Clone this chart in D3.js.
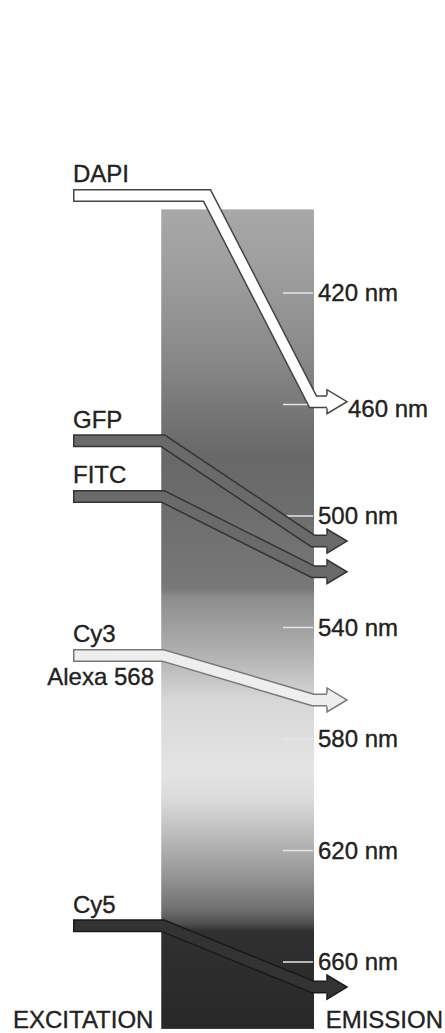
<!DOCTYPE html>
<html>
<head>
<meta charset="utf-8">
<script src="https://cdn.jsdelivr.net/npm/d3@7"></script>
<style>
  html, body { margin: 0; padding: 0; background: #fff; }
  svg { display: block; }
  text { font-family: "Liberation Sans", Arial, Helvetica, sans-serif; fill: #222; stroke: #222; stroke-width: 0.35px; }
</style>
</head>
<body>
<script>
// ---- data ----
const tickNm = [420, 460, 500, 540, 580, 620, 660];
const tickLabels = ["420 nm", "460 nm", "500 nm", "540 nm", "580 nm", "620 nm", "660 nm"];
const dyes = ["DAPI", "GFP", "FITC", "Cy3", "Cy5"];
const subLabels = ["", "", "", "Alexa 568", ""];
const excitationNm = [385, 473, 493, 550, 647];
const emissionNm = [459, 509, 520, 566, 669];
const spectrumRange = [390, 684];
const gradNm   = [390, 415, 444, 469, 480, 494, 516, 526, 529, 540, 550, 566, 591, 602, 616, 631, 641, 646, 649, 684];
const gradGray = [168, 156, 136, 112, 104, 108, 116, 120, 140, 160, 178, 215, 228, 218, 184, 144, 112, 80, 48, 40];
const axisTitles = ["EXCITATION", "EMISSION"];

// ---- layout / style ----
const W = 445, H = 1033;
const arrowFill    = ["#ffffff", "#6a6a6a", "#6a6a6a", "#eeeeee", "#333333"];
const arrowOutline = ["#444444", "#333333", "#333333", "#777777", "#1a1a1a"];

const y = d3.scaleLinear().domain([420, 660]).range([293, 962]);
const barX0 = 161, barX1 = 314;
const barTop = y(spectrumRange[0]), barBottom = y(spectrumRange[1]);

const svg = d3.select("body").append("svg").attr("width", W).attr("height", H);
svg.append("rect").attr("width", W).attr("height", H).attr("fill", "#fff");

const grad = svg.append("defs").append("linearGradient")
  .attr("id", "spec").attr("x1", 0).attr("y1", 0).attr("x2", 0).attr("y2", 1);
grad.selectAll("stop").data(gradNm).join("stop")
  .attr("offset", d => (y(d) - barTop) / (barBottom - barTop))
  .attr("stop-color", (d, i) => d3.rgb(gradGray[i], gradGray[i], gradGray[i]).formatHex());

svg.append("rect")
  .attr("x", barX0).attr("y", barTop)
  .attr("width", barX1 - barX0).attr("height", barBottom - barTop)
  .attr("fill", "url(#spec)");
svg.append("line")
  .attr("x1", barX0 + 0.5).attr("x2", barX0 + 0.5).attr("y1", barTop).attr("y2", barBottom)
  .attr("stroke", "rgba(255,255,255,0.25)").attr("stroke-width", 1);

// ticks
svg.selectAll("line.tick").data(tickNm).join("line")
  .attr("class", "tick")
  .attr("x1", 283).attr("x2", barX1 - 1)
  .attr("y1", d => y(d)).attr("y2", d => y(d))
  .attr("stroke", "#e6e6e6").attr("stroke-width", 1.5);

// arrows
const line = d3.line();
const xStart = 73, xDiagEnd = 313, xHead = 327, xTip = 347;
dyes.forEach((name, i) => {
  const y0 = y(excitationNm[i]), y1 = y(emissionNm[i]);
  const xTurn = excitationNm[i] < spectrumRange[0] ? barX0 + 46 : barX0 + 2;
  const pts = [[xStart, y0], [xTurn, y0], [xDiagEnd, y1], [xHead + 2, y1]];
  const g = svg.append("g");
  g.append("path").attr("d", line(pts))
    .attr("fill", "none").attr("stroke", arrowOutline[i]).attr("stroke-width", 13)
    .attr("stroke-linejoin", "miter").attr("stroke-miterlimit", 10);
  const inner = pts.map(p => p.slice());
  inner[0][0] = xStart + 1.5;
  inner[3][0] = xHead + 3;
  g.append("path").attr("d", line(inner))
    .attr("fill", "none").attr("stroke", arrowFill[i]).attr("stroke-width", 10)
    .attr("stroke-linejoin", "miter").attr("stroke-miterlimit", 10);
  g.append("path")
    .attr("d", line([[xHead, y1 - 12], [xTip, y1], [xHead, y1 + 12]]) + "Z")
    .attr("fill", arrowFill[i]);
  g.append("path")
    .attr("d", line([[xHead, y1 - 6.5], [xHead, y1 - 12], [xTip, y1], [xHead, y1 + 12], [xHead, y1 + 6.5]]))
    .attr("fill", "none").attr("stroke", arrowOutline[i]).attr("stroke-width", 1.5)
    .attr("stroke-linejoin", "miter");

  svg.append("text").attr("x", xStart).attr("y", y0 - 13)
    .attr("font-size", 24).text(name);
  if (subLabels[i]) {
    svg.append("text").attr("x", 154).attr("y", y0 + 30)
      .attr("text-anchor", "end").attr("font-size", 24).text(subLabels[i]);
  }
});

// tick labels
svg.selectAll("text.tl").data(tickNm).join("text")
  .attr("class", "tl")
  .attr("x", d => emissionNm.some(e => Math.abs(e - d) < 5) ? xTip + 1 : 318)
  .attr("y", d => y(d) + (emissionNm.some(e => Math.abs(e - d) < 5) ? 12 : 8))
  .attr("font-size", 24)
  .text((d, i) => tickLabels[i]);

// bottom titles
svg.append("text").attr("x", 13).attr("y", 1028).attr("font-size", 24).text(axisTitles[0]);
svg.append("text").attr("x", 443).attr("y", 1028).attr("text-anchor", "end").attr("font-size", 24).text(axisTitles[1]);
</script>
</body>
</html>
